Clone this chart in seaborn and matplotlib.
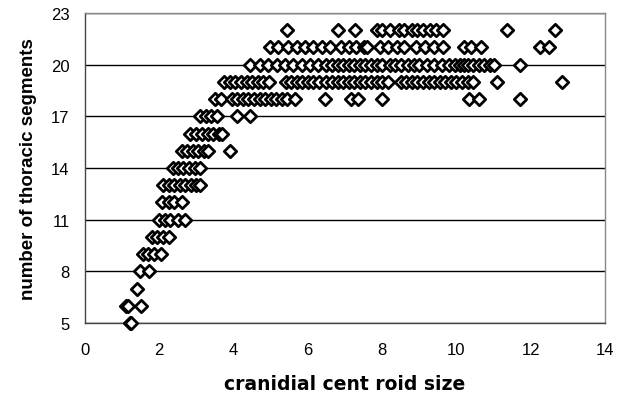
import matplotlib
matplotlib.use("Agg")
import matplotlib.pyplot as plt
import seaborn as sns
import pandas as pd

# number of thoracic segments (y) and cranidial centroid sizes (x) per row
seg5 = [1.2, 1.25]
seg6 = [1.1, 1.15, 1.5]
seg7 = [1.4]
seg8 = [1.48, 1.72]
seg9 = [1.56, 1.7, 1.85, 2.05]
seg10 = [1.8, 1.95, 2.1, 2.25]
seg11 = [2.0, 2.15, 2.3, 2.5, 2.7]
seg12 = [2.07, 2.25, 2.4, 2.6]
seg13 = [2.1, 2.25, 2.4, 2.55, 2.7, 2.85, 3.0, 3.1]
seg14 = [2.37, 2.5, 2.65, 2.8, 2.95, 3.1]
seg15 = [2.6, 2.75, 2.9, 3.05, 3.2, 3.3, 3.9]
seg16 = [2.83, 3.0, 3.15, 3.3, 3.45, 3.6, 3.7]
seg17 = [3.1, 3.25, 3.4, 3.55, 4.1, 4.45]
seg18 = [3.5, 3.65, 3.95, 4.1, 4.25, 4.4, 4.55, 4.7, 4.85, 5.0, 5.15, 5.3,
         5.45, 5.65, 6.45, 7.15, 7.35, 8.0, 10.35, 10.6, 11.7]
seg19 = [3.75, 3.9, 4.05, 4.2, 4.35, 4.5, 4.65, 4.8, 4.95, 5.4, 5.55, 5.7,
         5.85, 6.0, 6.15, 6.3, 6.5, 6.65, 6.8, 6.95, 7.1, 7.25, 7.4, 7.55,
         7.7, 7.85, 8.0, 8.15, 8.5, 8.65, 8.8, 8.95, 9.1, 9.25, 9.4, 9.55,
         9.7, 9.85, 10.0, 10.15, 10.3, 10.45, 11.1, 12.85]
seg20 = [4.45, 4.7, 4.93, 5.17, 5.38, 5.6, 5.85, 6.05, 6.27, 6.5, 6.65, 6.8,
         6.95, 7.1, 7.25, 7.4, 7.55, 7.7, 7.85, 8.0, 8.2, 8.35, 8.5, 8.7,
         8.85, 9.0, 9.2, 9.4, 9.6, 9.8, 9.95, 10.1, 10.2, 10.3, 10.45, 10.6,
         10.75, 10.9, 11.0, 11.7]
seg21 = [4.98, 5.2, 5.47, 5.7, 5.92, 6.14, 6.38, 6.6, 6.9, 7.1, 7.3, 7.5,
         7.6, 7.95, 8.15, 8.4, 8.6, 8.9, 9.15, 9.4, 9.65, 10.2, 10.4, 10.65,
         12.25, 12.5]
seg22 = [5.45, 6.8, 7.27, 7.85, 8.0, 8.2, 8.45, 8.6, 8.8, 8.95, 9.1, 9.3,
         9.45, 9.65, 11.35, 12.65]

segment_counts = list(range(5, 23))
size_rows = [seg5, seg6, seg7, seg8, seg9, seg10, seg11, seg12, seg13, seg14,
             seg15, seg16, seg17, seg18, seg19, seg20, seg21, seg22]

y_ticks = [5, 8, 11, 14, 17, 20, 23]
x_ticks = [0, 2, 4, 6, 8, 10, 12, 14]

xs, ys = [], []
for n, row in zip(segment_counts, size_rows):
    xs.extend(row)
    ys.extend([n] * len(row))
df = pd.DataFrame({"size": xs, "segments": ys})

sns.set_style("white")
plt.rcParams["font.family"] = ["Liberation Sans", "DejaVu Sans"]
plt.rcParams["text.color"] = "black"
plt.rcParams["axes.labelcolor"] = "black"

fig = plt.figure(figsize=(6.23, 4.06), dpi=100)
ax = fig.add_axes([0.1364, 0.2020, 0.8347, 0.7635])

sns.scatterplot(data=df, x="size", y="segments", marker="D", s=40,
                facecolor="white", edgecolor="black", linewidth=2.0,
                ax=ax, zorder=3, clip_on=False)

ax.set_xlim(0, 14)
ax.set_ylim(5, 23)
ax.set_xticks(x_ticks)
ax.set_yticks(y_ticks)
ax.set_xticklabels([str(v) for v in x_ticks], fontsize=12)
ax.set_yticklabels([str(v) for v in y_ticks], fontsize=12)
ax.yaxis.grid(True, color="black", linewidth=1.0, zorder=1)
ax.xaxis.grid(False)
ax.set_axisbelow(True)

for side in ["left", "bottom"]:
    ax.spines[side].set_color("#444444")
    ax.spines[side].set_linewidth(1.0)
for side in ["top", "right"]:
    ax.spines[side].set_color("#888888")
    ax.spines[side].set_linewidth(1.0)

ax.tick_params(axis="both", direction="out", length=5, width=1,
               color="#444444", labelcolor="black")
ax.tick_params(axis="x", pad=9)
ax.tick_params(axis="y", pad=6)

ax.set_xlabel("cranidial cent roid size", fontsize=13.5, fontweight="bold",
              family=["DejaVu Sans"], labelpad=12, color="black")
ax.set_ylabel("number of thoracic segments", fontsize=13.5, fontweight="bold",
              labelpad=10, color="black")

fig.savefig("out.png", dpi=100, facecolor="white")
